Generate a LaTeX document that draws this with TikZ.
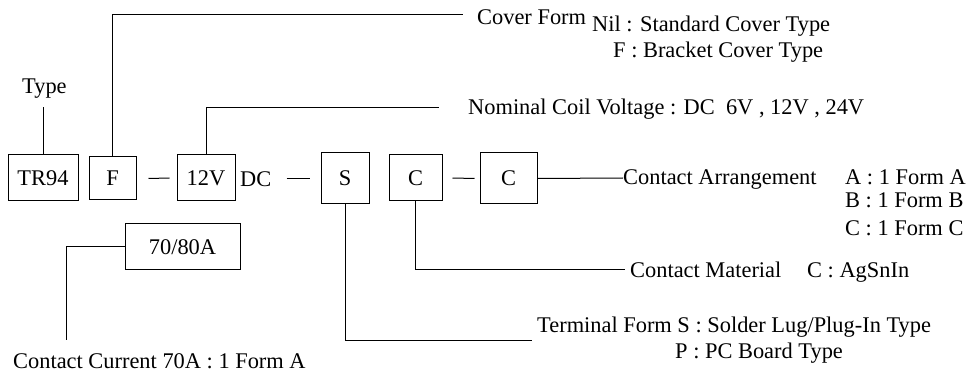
\documentclass[tikz,border=0pt]{standalone}
\usepackage{fontspec}
\setmainfont{Liberation Serif}
\usepackage{tikz}
\usetikzlibrary{positioning}
\tikzstyle{box}=[draw,line width=1,inner sep=0,font=\fontsize{22.4}{26}\selectfont]
\tikzstyle{txt}=[anchor=base west,inner sep=0,font=\fontsize{22.4}{26}\selectfont]
\tikzstyle{lead}=[line width=1]

\begin{document}
\begin{tikzpicture}[x=1pt,y=-1pt]
  \def\yc{178} % y of the code line
  \useasboundingbox (0,0) rectangle (967,374);

  % CODE BOXES
  \node[box,minimum width=70,minimum height=46] (TR94) at (43,\yc) {TR94};
  \node[box,minimum width=47,minimum height=43] (F) at (112.5,178.5) {F};
  \node[box,minimum width=58,minimum height=46] (V12) at (206,\yc) {12V};
  \node[txt] (DC) at (240,187) {DC};
  \node[box,minimum width=48,minimum height=51] (S) at (345,178.5) {S};
  \node[box,minimum width=53,minimum height=46] (C1) at (415.5,\yc) {C};
  \node[box,minimum width=57,minimum height=51] (C2) at (508.5,178.5) {C};
  \node[box,minimum width=115,minimum height=46] (A70) at (182.5,247) {70/80A};

  % SEPARATORS
  \draw[lead] ([xshift=12]F.east) -- ([xshift=-7]V12.west);
  \draw[lead] ([xshift=-34]S.west) -- ([xshift=-11]S.west);
  \draw[lead] ([xshift=10]C1.east) -- ([xshift=-5]C2.west);

  % LABELS
  \node[txt] (Type) at (22,94) {Type};
  \node[txt] (Cover) at (477,25) {Cover Form};
  \node[txt] (CoverNil) at (592,32) {Nil : Standard Cover Type};
  \node[txt] (CoverF) at (613,58) {F : Bracket Cover Type};
  \node[txt] (Coil) at (468,115) {Nominal Coil Voltage : DC\ \ 6V , 12V , 24V};
  \node[txt] (Arr) at (623,185) {Contact Arrangement};
  \node[txt] (ArrA) at (845,185) {A : 1 Form A};
  \node[txt] (ArrB) at (845,208) {B : 1 Form B};
  \node[txt] (ArrC) at (845,236) {C : 1 Form C};
  \node[txt] (Mat) at (630,277) {Contact Material};
  \node[txt] (MatC) at (807,277) {C : AgSnIn};
  \node[txt] (Term) at (537,332) {Terminal Form S : Solder Lug/Plug-In Type};
  \node[txt] (TermP) at (675,358) {P : PC Board Type};
  \node[txt] (Cur) at (13,368) {Contact Current 70A : 1 Form A};

  % LEADERS
  \coordinate (cf) at (463,15);
  \coordinate (cv) at (439,108);
  \coordinate (ca) at (623,\yc);
  \coordinate (cm) at (625,270);
  \coordinate (ct) at (532,340);
  \coordinate (cc) at (66,340);
  \draw[lead] (TR94.north) -- ++(0,-47);
  \draw[lead] (F.north) |- (cf);
  \draw[lead] (V12.north) |- (cv);
  \draw[lead] (C2.east) -- (ca);
  \draw[lead] (C1.south) |- (cm);
  \draw[lead] (S.south) |- (ct);
  \draw[lead] (A70.west) -| (cc);
\end{tikzpicture}
\end{document}
